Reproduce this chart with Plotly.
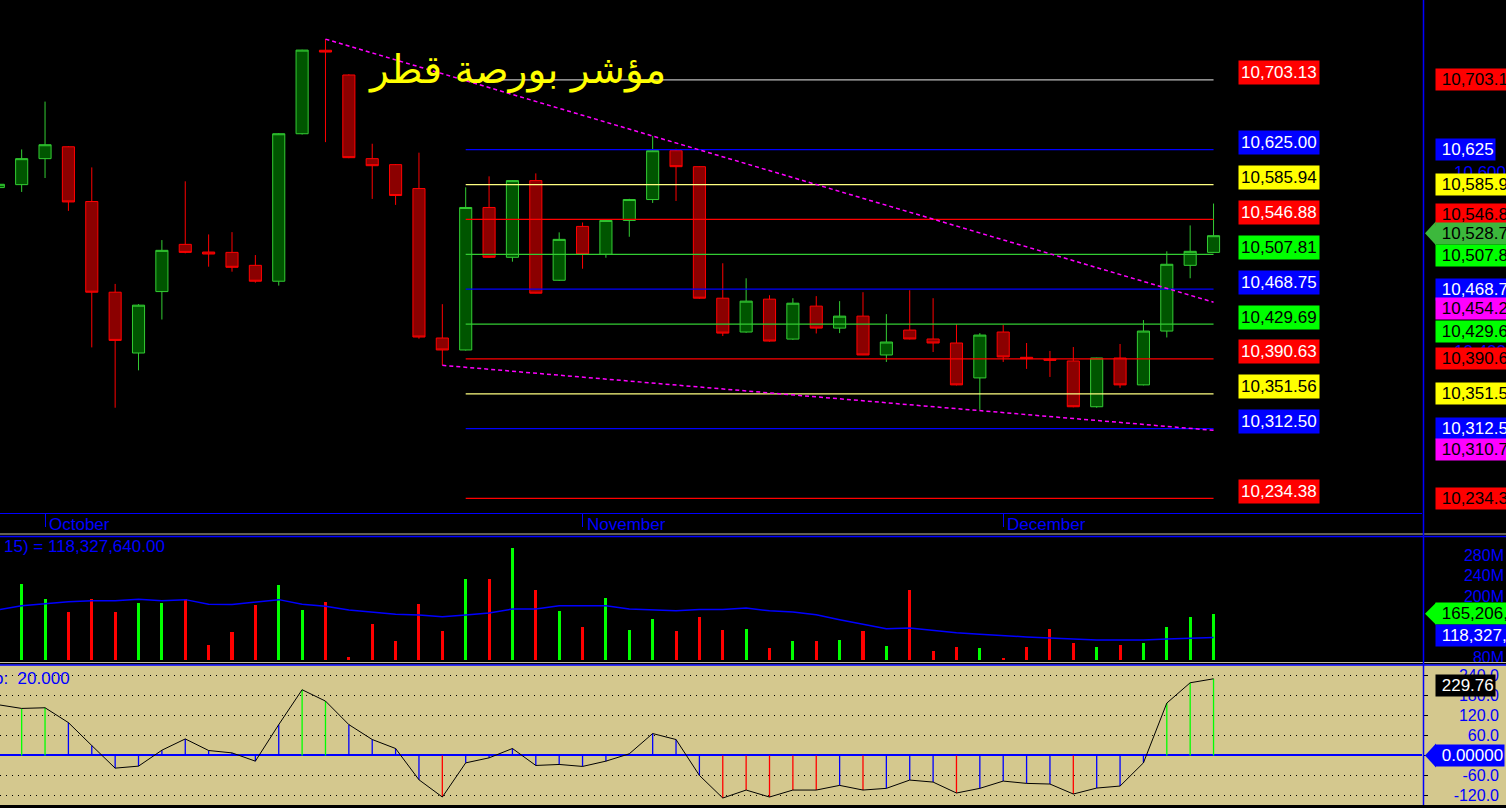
import plotly.graph_objects as go

# ---------------- data ----------------
candle_index = list(range(53))
open_p = [10582.6, 10585.9, 10615.0, 10628.3, 10567.0, 10465.4, 10397.3, 10466.1, 10519.0, 10510.4,
          10510.0, 10495.5, 10477.7, 10642.9, 10736.4, 10708.7, 10615.0, 10608.3, 10581.5, 10414.1,
          10400.7, 10560.3, 10504.5, 10590.4, 10478.8, 10539.1, 10507.8, 10545.8, 10569.2, 10623.9,
          10606.0, 10458.7, 10420.8, 10457.6, 10412.9, 10449.8, 10425.2, 10438.6, 10395.1, 10423.0,
          10413.0, 10408.5, 10369.4, 10420.8, 10392.5, 10390.4, 10388.4, 10337.1, 10391.7, 10361.6,
          10421.9, 10495.5, 10510.0]
high_p = [10588.0, 10625.3, 10678.9, 10629.0, 10605.2, 10474.7, 10452.0, 10523.8, 10589.6, 10530.1,
          10532.7, 10507.0, 10643.5, 10737.0, 10748.9, 10709.5, 10631.7, 10609.0, 10621.7, 10452.0,
          10582.9, 10595.2, 10591.0, 10598.5, 10532.4, 10543.5, 10546.5, 10570.0, 10640.2, 10626.1,
          10606.5, 10497.8, 10481.0, 10462.0, 10458.7, 10461.0, 10455.4, 10465.4, 10440.8, 10467.6,
          10458.7, 10429.7, 10419.6, 10428.6, 10408.5, 10399.6, 10404.0, 10392.0, 10407.4, 10434.2,
          10511.2, 10540.2, 10564.7]
low_p = [10581.0, 10577.7, 10593.3, 10556.5, 10403.6, 10336.0, 10377.9, 10434.8, 10509.0, 10494.0,
         10488.4, 10476.1, 10472.8, 10642.0, 10633.5, 10615.5, 10569.9, 10563.2, 10413.3, 10383.5,
         10400.0, 10504.0, 10499.6, 10464.0, 10478.0, 10491.7, 10504.0, 10527.5, 10565.4, 10567.6,
         10458.0, 10416.3, 10420.0, 10410.0, 10412.0, 10419.2, 10419.6, 10395.0, 10387.3, 10412.5,
         10398.4, 10361.0, 10333.7, 10387.3, 10379.5, 10370.5, 10336.5, 10336.0, 10358.3, 10361.0,
         10414.7, 10481.0, 10509.5]
close_p = [10586.3, 10615.0, 10630.6, 10566.5, 10465.4, 10411.4, 10450.9, 10512.3, 10510.0, 10508.2,
           10493.3, 10477.7, 10642.9, 10736.6, 10734.4, 10616.1, 10607.1, 10573.7, 10415.2, 10400.7,
           10560.3, 10504.5, 10590.4, 10464.3, 10524.6, 10507.8, 10545.8, 10569.2, 10623.9, 10606.0,
           10458.7, 10419.6, 10455.4, 10410.7, 10453.1, 10425.2, 10438.6, 10395.1, 10409.6, 10413.0,
           10408.5, 10361.6, 10417.4, 10392.9, 10391.0, 10389.3, 10337.1, 10391.7, 10361.6, 10421.9,
           10496.7, 10511.2, 10528.7]

# volume and its 15-period average, in millions
volume_m = [190, 224, 195, 169, 195, 169, 187, 187, 195, 104.5,
            130, 183, 222, 173, 189, 81, 146, 112, 185, 132,
            234, 234, 294.7, 212, 171, 140, 197, 134, 155.5, 132,
            159.4, 134, 136, 98.6, 112, 112, 114, 132, 102.5, 212,
            92.7, 100.6, 98.6, 78.4, 100.6, 136, 108, 100.6, 104.5, 108,
            140, 159.4, 165.2064]
volume_ma_m = [173, 181, 185, 189, 191, 191, 194, 191, 193, 184,
               183.5, 188, 193, 184, 180, 172.5, 168.6, 164, 163, 159.4,
               163, 166.7, 174.5, 174.5, 181, 181, 181, 174.5, 172.5, 171,
               173.7, 173.7, 176.5, 171, 168.6, 163.3, 153.5, 144.3, 135.9, 137.3,
               132.5, 128, 124.7, 121.6, 119.6, 117.6, 115.7, 113.7, 113.7, 113.7,
               115.7, 117.6, 118.32764]
volume_ma_period = 15

cci_values = [152, 141, 143, 98.5, 29.8, -37.9, -31.9, 15.8, 49.6, 14.9,
              7.8, -17, 92.5, 197, 163, 92.5, 47.8, 20.9, -72.8, -124.5,
              -22.1, -7.1, 20.9, -29.9, -26.9, -32.8, -17, 5, 65.7, 47.8,
              -59.7, -127.5, -103.6, -124.5, -103.6, -103.6, -89.6, -103.6, -98.5, -73.7,
              -79.7, -112.5, -98.5, -76.7, -83.6, -85.6, -115.5, -97.6, -91.6, -22.1,
              157, 217.9, 229.76]
cci_period = 20.0
cci_levels = [-120, -60, 0, 60, 120, 180, 240]

# horizontal levels drawn from bar 20 to the last bar
level_values = [10703.13, 10625.00, 10585.94, 10546.88, 10507.81, 10468.75,
                10429.69, 10390.63, 10351.56, 10312.50, 10234.38]
level_start, level_end = 20, 52

# dashed trend lines: (bar index, price)
trend_upper_x = [14, 52]
trend_upper_y = [10748.9, 10454.2]
trend_lower_x = [19, 52]
trend_lower_y = [10383.5, 10310.7]

month_names = ["October", "November", "December"]
month_bar = [2, 25, 43]

price_ticks = [10400, 10600]
volume_ticks_m = [80, 120, 160, 200, 240, 280]

title_text = "مؤشر بورصة قطر"

# ---------------- styles ----------------
BLUE = "#0000FF"
RED = "#FF0000"
GREEN_LINE = "#33CC33"
GREEN_BOX = "#00FF00"
YELLOW_LINE = "#FFFF80"
YELLOW_BOX = "#FFFF00"
MAGENTA = "#FF00FF"
TAN = "#D4C88E"
FONT = "Liberation Sans, Arial, sans-serif"

level_line_colors = ["#BBBBBB", BLUE, YELLOW_LINE, RED, GREEN_LINE, BLUE,
                     GREEN_LINE, RED, YELLOW_LINE, BLUE, RED]
level_box_colors = [RED, BLUE, YELLOW_BOX, RED, GREEN_BOX, BLUE,
                    GREEN_BOX, RED, YELLOW_BOX, BLUE, RED]
level_text_colors = ["white", "white", "black", "white", "black", "white",
                     "black", "white", "black", "white", "white"]

W, H = 1506, 808
X0_PX, STEP_PX = -1.7, 23.37
PLOT_RIGHT = 1422
x_range = [(0 - X0_PX) / STEP_PX, (PLOT_RIGHT - X0_PX) / STEP_PX]
x_dom = [0, PLOT_RIGHT / W]


def py(px):
    return 1 - px / H


main_dom = [py(515), 1]
vol_dom = [py(665), py(539)]
cci_dom = [0, py(668)]
main_rng = [10218.0, 10792.7]
vol_rng = [69.2e6, 316.3e6]
cci_rng = [-148.4, 269.6]
vol_base = 75e6

fig = go.Figure()

# candles
fig.add_trace(go.Candlestick(
    x=candle_index, open=open_p, high=high_p, low=low_p, close=close_p,
    increasing=dict(fillcolor="#005500", line=dict(color=GREEN_LINE, width=1)),
    decreasing=dict(fillcolor="#8B0000", line=dict(color=RED, width=1)),
    whiskerwidth=0, xaxis="x", yaxis="y", showlegend=False, hoverinfo="skip"))

# level lines
for lv, col in zip(level_values, level_line_colors):
    fig.add_trace(go.Scatter(x=[level_start, level_end], y=[lv, lv], mode="lines",
                             line=dict(color=col, width=1.2), xaxis="x", yaxis="y",
                             showlegend=False, hoverinfo="skip"))

# trend lines
for tx, ty in ((trend_upper_x, trend_upper_y), (trend_lower_x, trend_lower_y)):
    fig.add_trace(go.Scatter(x=tx, y=ty, mode="lines",
                             line=dict(color=MAGENTA, width=1.5, dash="4px,3px"),
                             xaxis="x", yaxis="y", showlegend=False, hoverinfo="skip"))

# volume
vol_colors = [GREEN_BOX if c >= o else RED for o, c in zip(open_p, close_p)]
fig.add_trace(go.Bar(x=candle_index, y=[v * 1e6 - vol_base for v in volume_m], base=vol_base,
                     width=0.13, marker=dict(color=vol_colors, line=dict(width=0)),
                     xaxis="x2", yaxis="y2", showlegend=False, hoverinfo="skip"))
fig.add_trace(go.Scatter(x=candle_index, y=[v * 1e6 for v in volume_ma_m], mode="lines",
                         line=dict(color=BLUE, width=1.5), xaxis="x2", yaxis="y2",
                         showlegend=False, hoverinfo="skip"))

# CCI stems
def stems(cond):
    xs, ys = [], []
    for i, c in zip(candle_index, cci_values):
        if cond(c):
            xs += [i, i, None]
            ys += [0, c, None]
    return xs, ys

for cond, col in ((lambda c: c > 100, GREEN_BOX), (lambda c: c < -100, RED),
                  (lambda c: -100 <= c <= 100, BLUE)):
    sx, sy = stems(cond)
    fig.add_trace(go.Scatter(x=sx, y=sy, mode="lines", line=dict(color=col, width=1.3),
                             xaxis="x3", yaxis="y3", showlegend=False, hoverinfo="skip"))
fig.add_trace(go.Scatter(x=candle_index, y=cci_values, mode="lines",
                         line=dict(color="black", width=1), xaxis="x3", yaxis="y3",
                         showlegend=False, hoverinfo="skip"))

# ---------------- annotations ----------------
ann = []
ann.append(dict(text=title_text, x=517 / W, y=py(45), xref="paper", yref="paper",
                showarrow=False, font=dict(family="DejaVu Sans", size=39, color=YELLOW_BOX)))

for lv, bg, fg in zip(level_values, level_box_colors, level_text_colors):
    ann.append(dict(text=f"{lv:,.2f}", x=(1238 - X0_PX) / STEP_PX, y=lv, xref="x", yref="y",
                    xanchor="left", yanchor="middle", yshift=7, showarrow=False,
                    bgcolor=bg, borderpad=2, font=dict(family=FONT, size=17, color=fg)))

for name, b in zip(month_names, month_bar):
    ann.append(dict(text=name, x=b, y=py(526), xref="x", yref="paper", xanchor="left",
                    yanchor="middle", xshift=2, showarrow=False,
                    font=dict(family=FONT, size=17, color=BLUE)))

# right price scale labels: (value, text, bg, fg, yshift)
last_close = close_p[-1]
right_labels = [
    (level_values[0], f"{level_values[0]:,.2f}", RED, "black", 0),
    (level_values[1], f"{level_values[1]:,.0f}", BLUE, "white", 0),
    (level_values[2], f"{level_values[2]:,.2f}", YELLOW_BOX, "black", 0),
    (level_values[3], f"{level_values[3]:,.2f}", RED, "black", 4.7),
    (last_close, f"{last_close:,.2f}", "#3CB83C", "black", 2.4),
    (level_values[4], f"{level_values[4]:,.2f}", GREEN_BOX, "black", -1.2),
    (level_values[5], f"{level_values[5]:,.2f}", BLUE, "white", 0),
    (trend_upper_y[-1], f"{trend_upper_y[-1]:,.2f}", MAGENTA, "black", -6.6),
    (level_values[6], f"{level_values[6]:,.2f}", GREEN_BOX, "black", -7),
    (level_values[7], f"{level_values[7]:,.2f}", RED, "black", 0),
    (level_values[8], f"{level_values[8]:,.2f}", YELLOW_BOX, "black", 0),
    (level_values[9], f"{level_values[9]:,.2f}", BLUE, "white", 0),
    (trend_lower_y[-1], f"{trend_lower_y[-1]:,.2f}", MAGENTA, "black", -19.5),
    (level_values[10], f"{level_values[10]:,.2f}", RED, "black", 0),
]
LBL_X = 1435 / W
for v, t, bg, fg, ys in right_labels:
    ann.append(dict(text="\u00a0" + t, x=LBL_X, y=v, xref="paper", yref="y", xanchor="left",
                    yanchor="middle", yshift=ys, showarrow=False, bgcolor=bg, borderpad=1,
                    font=dict(family=FONT, size=17, color=fg)))

vol_last = volume_m[-1] * 1e6
ma_last = volume_ma_m[-1] * 1e6
ann.append(dict(text="\u00a0" + f"{vol_last:,.0f}", x=LBL_X, y=vol_last, xref="paper", yref="y2",
                xanchor="left", yanchor="middle", showarrow=False, bgcolor=GREEN_BOX, borderpad=1,
                font=dict(family=FONT, size=17, color="black")))
ann.append(dict(text="\u00a0" + f"{ma_last:,.0f}", x=LBL_X, y=ma_last, xref="paper", yref="y2",
                xanchor="left", yanchor="middle", yshift=2, showarrow=False, bgcolor=BLUE,
                borderpad=1, font=dict(family=FONT, size=17, color="white")))
ann.append(dict(text=f"{volume_ma_period}) = {ma_last:,.2f}", x=167 / W, y=py(549),
                xref="paper", yref="paper", xanchor="right", yanchor="middle", showarrow=False,
                font=dict(family=FONT, size=17, color=BLUE)))

cci_last = cci_values[-1]
ann.append(dict(text="\u00a0" + f"{cci_last:.2f}", x=LBL_X, y=cci_last, xref="paper", yref="y3",
                xanchor="left", yanchor="middle", yshift=-6.5, showarrow=False, bgcolor="black",
                borderpad=1, font=dict(family=FONT, size=17, color="white")))
ann.append(dict(text="\u00a0" + f"{0:.5f}", x=LBL_X, y=0, xref="paper", yref="y3",
                xanchor="left", yanchor="middle", showarrow=False, bgcolor=BLUE,
                borderpad=1, font=dict(family=FONT, size=17, color="white")))
ann.append(dict(text=f"o:\u00a0 {cci_period:.3f}", x=72 / W, y=py(681), xref="paper",
                yref="paper", xanchor="right", yanchor="middle", showarrow=False,
                font=dict(family=FONT, size=17, color=BLUE)))

# ---------------- shapes ----------------
shapes = []
shapes.append(dict(type="rect", xref="paper", yref="paper", x0=0, x1=1, y0=0, y1=py(667),
                   fillcolor=TAN, line=dict(width=0), layer="below"))


def arrow_tip(yref, yval, half_units, color):
    return dict(type="path", xref="paper", yref=yref, fillcolor=color, line=dict(width=0),
                path=f"M {1425 / W},{yval} L {1436 / W},{yval + half_units} "
                     f"L {1436 / W},{yval - half_units} Z")


main_ppu = (main_dom[1] - main_dom[0]) * H / (main_rng[1] - main_rng[0])
vol_ppu = (vol_dom[1] - vol_dom[0]) * H / (vol_rng[1] - vol_rng[0])
cci_ppu = (cci_dom[1] - cci_dom[0]) * H / (cci_rng[1] - cci_rng[0])
shapes.append(arrow_tip("y", last_close + 2.4 / main_ppu, 12 / main_ppu, "#3CB83C"))
shapes.append(arrow_tip("y2", vol_last, 11 / vol_ppu, GREEN_BOX))
shapes.append(arrow_tip("y3", 0, 12 / cci_ppu, BLUE))

for ypx, col, wd in ((536, "#C8C0A0", 1), (538.5, BLUE, 1.5), (665, "#C8C0A0", 1), (667.5, BLUE, 1.5)):
    shapes.append(dict(type="line", xref="paper", yref="paper", x0=0, x1=1, y0=py(ypx), y1=py(ypx),
                       line=dict(color=col, width=wd)))
shapes.append(dict(type="line", xref="paper", yref="paper", x0=1423.5 / W, x1=1423.5 / W,
                   y0=0, y1=1, line=dict(color=BLUE, width=1.5)))

tick_font = dict(family=FONT, size=16, color=BLUE)
cci_label_vals = [v for v in cci_levels if v != 0]
fig.update_layout(
    width=W, height=H, margin=dict(l=0, r=0, t=0, b=0), autosize=False,
    paper_bgcolor="black", plot_bgcolor="rgba(0,0,0,0)", showlegend=False,
    boxgap=0.26, bargap=0,
    annotations=ann, shapes=shapes,
    xaxis=dict(domain=x_dom, range=x_range, anchor="y", showgrid=False, zeroline=False,
               showline=True, linecolor=BLUE, linewidth=1, tickvals=month_bar,
               ticks="outside", ticklen=13, tickcolor=BLUE, tickwidth=1,
               showticklabels=False, rangeslider=dict(visible=False)),
    xaxis2=dict(domain=x_dom, range=x_range, anchor="y2", matches="x", showgrid=False,
                zeroline=False, showticklabels=False),
    xaxis3=dict(domain=x_dom, range=x_range, anchor="y3", matches="x", showgrid=False,
                zeroline=False, showticklabels=False),
    yaxis=dict(domain=main_dom, range=main_rng, side="left", anchor="free", position=1.0,
               showgrid=False, zeroline=False, tickvals=price_ticks, tickformat=",.0f",
               tickfont=dict(family=FONT, size=17, color=BLUE), ticks=""),
    yaxis2=dict(domain=vol_dom, range=vol_rng, side="left", anchor="free", position=1504 / W,
                showgrid=False, zeroline=False, tickvals=[t * 1e6 for t in volume_ticks_m],
                ticktext=[f"{t}M" for t in volume_ticks_m], tickfont=tick_font, ticks=""),
    yaxis3=dict(domain=cci_dom, range=cci_rng, side="right", anchor="x3", showgrid=True,
                gridcolor="black", griddash="1px,5px", gridwidth=1, tickvals=cci_levels,
                zeroline=True, zerolinecolor=BLUE, zerolinewidth=1.5,
                ticks="outside", ticklen=5, tickcolor="black", showticklabels=False),
    yaxis4=dict(domain=cci_dom, range=cci_rng, overlaying="y3", side="left", anchor="free",
                position=1499 / W, showgrid=False, zeroline=False,
                tickvals=cci_label_vals, ticktext=[f"{v:.1f}" for v in cci_label_vals],
                tickfont=tick_font, ticks=""),
)
# invisible point so that the CCI label axis is drawn
fig.add_trace(go.Scatter(x=[candle_index[0]], y=[cci_values[0]], xaxis="x3", yaxis="y4",
                         mode="markers", marker=dict(opacity=0), showlegend=False,
                         hoverinfo="skip"))

page_fix = (
    "document.documentElement.style.margin='0';document.documentElement.style.overflow='hidden';"
    "document.body.style.margin='0';document.body.style.padding='0';"
    "document.body.style.overflow='hidden';document.body.style.lineHeight='0';"
    "document.querySelectorAll('.svg-container').forEach(function(e){"
    "e.style.display='block';e.style.verticalAlign='top';});"
)
fig.write_html("out.html", config={"displayModeBar": False, "responsive": False},
               post_script=page_fix)
